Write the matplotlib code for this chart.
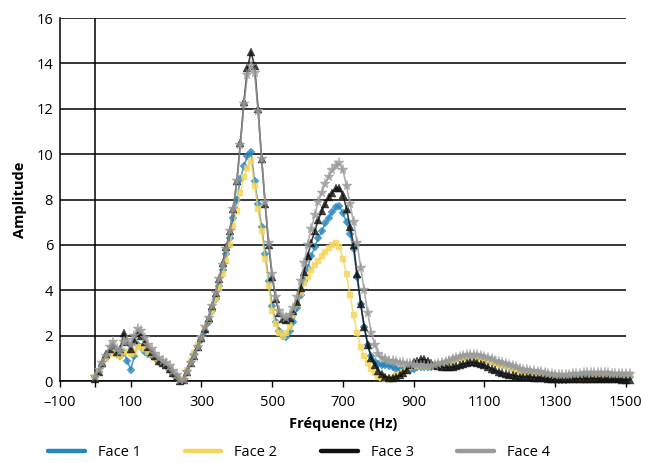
import numpy as np
import matplotlib
matplotlib.use("Agg")
import matplotlib.pyplot as plt
from matplotlib.lines import Line2D

plt.rcParams["font.family"] = ["Open Sans", "DejaVu Sans"]

# sampling grid of the measurement (Hz)
freq = np.arange(0, 1520, 10)

face1 = [
    0.2, 0.4, 0.7, 1.0, 1.3, 1.5, 1.2, 1.1, 1.3, 0.9,
    0.5, 1.1, 1.6, 1.5, 1.3, 1.2, 1.1, 1.0, 0.85, 0.75,
    0.65, 0.5, 0.3, 0.15, 0.0, 0.1, 0.45, 0.85, 1.2, 1.5,
    1.8, 2.2, 2.6, 3.1, 3.6, 4.2, 4.9, 5.6, 6.3, 7.2,
    8.0, 8.9, 9.5, 9.9, 10.1, 8.8, 7.8, 6.8, 5.6, 4.4,
    3.3, 2.6, 2.2, 2.0, 1.95, 2.2, 2.6, 3.2, 3.8, 4.4,
    5.0, 5.5, 5.9, 6.3, 6.6, 6.95, 7.2, 7.45, 7.65, 7.7,
    7.4, 7.0, 6.5, 5.8, 4.6, 3.4, 2.4, 1.6, 1.1, 0.85,
    0.75, 0.7, 0.7, 0.65, 0.6, 0.55, 0.5, 0.5, 0.5, 0.5,
    0.55, 0.6, 0.6, 0.6, 0.6, 0.6, 0.65, 0.7, 0.75, 0.8,
    0.85, 0.9, 0.95, 1.0, 1.0, 1.05, 1.05, 1.05, 1.0, 1.0,
    0.95, 0.9, 0.85, 0.8, 0.75, 0.7, 0.65, 0.6, 0.55, 0.5,
    0.45, 0.4, 0.35, 0.3, 0.25, 0.2, 0.15, 0.12, 0.1, 0.08,
    0.05, 0.05, 0.03, 0.05, 0.1, 0.15, 0.2, 0.22, 0.25, 0.25,
    0.25, 0.25, 0.25, 0.25, 0.25, 0.25, 0.22, 0.2, 0.2, 0.2,
    0.2, 0.2,
]

face2 = [
    0.2, 0.4, 0.7, 1.0, 1.2, 1.3, 1.2, 1.1, 1.3, 1.3,
    1.2, 1.3, 1.5, 1.5, 1.4, 1.3, 1.2, 1.0, 0.9, 0.8,
    0.7, 0.55, 0.35, 0.2, 0.05, 0.1, 0.5, 0.9, 1.25, 1.6,
    1.9, 2.3, 2.7, 3.1, 3.6, 4.1, 4.7, 5.3, 6.0, 6.8,
    7.5, 8.3, 9.0, 9.4, 9.7, 8.6, 7.6, 6.6, 5.4, 4.2,
    3.1, 2.5, 2.1, 2.0, 2.1, 2.4, 2.9, 3.4, 3.9, 4.3,
    4.6, 4.9, 5.1, 5.3, 5.5, 5.7, 5.85, 6.0, 6.1, 5.9,
    5.4, 4.7, 3.8, 2.9, 2.1, 1.5, 1.1, 0.8, 0.55, 0.35,
    0.2, 0.12, 0.1, 0.1, 0.15, 0.25, 0.3, 0.4, 0.5, 0.6,
    0.65, 0.65, 0.65, 0.65, 0.65, 0.65, 0.7, 0.7, 0.75, 0.8,
    0.85, 0.9, 0.95, 1.0, 1.0, 1.05, 1.05, 1.05, 1.0, 1.0,
    0.95, 0.9, 0.85, 0.8, 0.75, 0.7, 0.65, 0.6, 0.55, 0.5,
    0.45, 0.42, 0.4, 0.37, 0.35, 0.32, 0.3, 0.27, 0.25, 0.22,
    0.2, 0.18, 0.16, 0.14, 0.12, 0.1, 0.08, 0.06, 0.05, 0.05,
    0.1, 0.15, 0.2, 0.22, 0.25, 0.25, 0.25, 0.25, 0.25, 0.25,
    0.25, 0.25,
]

face3 = [
    0.1, 0.4, 0.8, 1.2, 1.4, 1.6, 1.3, 1.4, 2.1, 1.7,
    1.4, 1.8, 2.1, 2.0, 1.7, 1.5, 1.3, 1.1, 0.9, 0.8,
    0.7, 0.55, 0.35, 0.2, 0.0, 0.05, 0.4, 0.8, 1.1, 1.5,
    1.9, 2.3, 2.8, 3.3, 3.9, 4.5, 5.2, 5.9, 6.6, 7.6,
    8.8, 10.5, 12.3, 13.8, 14.5, 13.9, 12.0, 9.8, 7.8, 6.0,
    4.6, 3.6, 3.0, 2.75, 2.7, 2.8, 3.1, 3.5, 4.1, 4.8,
    5.5, 6.1, 6.6, 7.1, 7.5, 7.8, 8.1, 8.3, 8.5, 8.5,
    8.2, 7.6, 6.8, 6.0, 4.7, 3.4, 2.4, 1.6, 1.0, 0.7,
    0.45, 0.3, 0.2, 0.15, 0.15, 0.2, 0.25, 0.35, 0.5, 0.7,
    0.85, 0.9, 0.95, 0.95, 0.9, 0.8, 0.7, 0.65, 0.6, 0.6,
    0.6, 0.62, 0.65, 0.7, 0.75, 0.8, 0.82, 0.82, 0.8, 0.75,
    0.7, 0.62, 0.55, 0.48, 0.42, 0.36, 0.32, 0.28, 0.25, 0.22,
    0.2, 0.18, 0.17, 0.16, 0.15, 0.14, 0.13, 0.12, 0.11, 0.1,
    0.1, 0.1, 0.1, 0.1, 0.1, 0.1, 0.1, 0.1, 0.1, 0.1,
    0.1, 0.1, 0.1, 0.1, 0.08, 0.08, 0.08, 0.07, 0.07, 0.06,
    0.06, 0.05,
]

face4 = [
    0.2, 0.5, 0.8, 1.1, 1.5, 1.7, 1.4, 1.3, 1.7, 1.8,
    1.6, 2.0, 2.3, 2.2, 1.9, 1.6, 1.4, 1.2, 1.0, 0.9,
    0.8, 0.65, 0.45, 0.25, 0.05, 0.05, 0.4, 0.8, 1.1, 1.5,
    1.9, 2.4, 2.8, 3.3, 3.9, 4.5, 5.1, 5.8, 6.6, 7.6,
    8.8, 10.4, 12.2, 13.5, 13.9, 13.6, 11.9, 9.8, 7.9, 6.1,
    4.7, 3.7, 3.1, 2.85, 2.8, 2.9, 3.2, 3.7, 4.4, 5.2,
    6.0, 6.7, 7.3, 7.9, 8.3, 8.7, 9.0, 9.3, 9.5, 9.6,
    9.3, 8.6, 7.8, 7.0, 6.1, 5.0, 4.0, 3.0, 2.1, 1.6,
    1.2, 1.0, 0.95, 0.9, 0.9, 0.85, 0.8, 0.8, 0.75, 0.75,
    0.7, 0.7, 0.65, 0.65, 0.65, 0.65, 0.7, 0.75, 0.8, 0.85,
    0.9, 0.95, 1.0, 1.05, 1.1, 1.15, 1.15, 1.15, 1.15, 1.1,
    1.05, 1.0, 0.95, 0.9, 0.85, 0.8, 0.75, 0.7, 0.65, 0.6,
    0.55, 0.5, 0.5, 0.45, 0.45, 0.4, 0.4, 0.35, 0.3, 0.3,
    0.25, 0.25, 0.25, 0.25, 0.25, 0.3, 0.3, 0.3, 0.35, 0.35,
    0.35, 0.35, 0.35, 0.35, 0.35, 0.35, 0.3, 0.3, 0.3, 0.3,
    0.3, 0.3,
]

labels = ["Face 1", "Face 2", "Face 3", "Face 4"]
colors = ["#2787bd", "#f7d55c", "#111111", "#9a9a9a"]
markers = ["D", "s", "^", "*"]
sizes = [4.5, 4.8, 5.6, 8.0]
series = [face1, face2, face3, face4]

fig = plt.figure(figsize=(6.45, 4.63), dpi=100)
ax = fig.add_axes([0.093, 0.177, 0.8775, 0.784])

for i, values in enumerate(series):
    ax.plot(freq, values, color=colors[i], lw=1.2, marker=markers[i],
            markersize=sizes[i], markeredgewidth=0.3, alpha=0.8,
            clip_on=False, zorder=3 + i)

ax.set_xlim(-100, 1500)
ax.set_ylim(0, 16)
ax.set_xticks(np.arange(-100, 1501, 200))
ax.set_xticks([0], minor=True)
ax.set_xticklabels(["\u2013100"] + [str(v) for v in range(100, 1501, 200)])
ax.set_yticks(np.arange(0, 17, 2))
ax.axvline(0, color="black", lw=1.1, zorder=2)
ax.grid(axis="y", color="black", lw=1.1, zorder=1)
ax.set_axisbelow(True)

for side in ["top", "right"]:
    ax.spines[side].set_visible(False)
for side in ["left", "bottom"]:
    ax.spines[side].set_linewidth(1.1)

ax.tick_params(axis="x", which="both", direction="out", length=4, width=1,
               labelsize=10.5, pad=6)
ax.tick_params(axis="y", length=0, labelsize=10.5, pad=5)
ax.set_xlabel("Fréquence (Hz)", fontsize=10.5, fontweight="bold", labelpad=5)
ax.set_ylabel("Amplitude", fontsize=10.5, fontweight="bold", labelpad=7)

handles = [Line2D([0], [0], color=c, lw=3.2, solid_capstyle="round") for c in colors]
fig.legend(handles, labels, loc="center", bbox_to_anchor=(0.464, 0.023),
           ncol=4, frameon=False, fontsize=10.5, handlelength=2.5,
           handletextpad=0.9, columnspacing=3.0)

fig.savefig("out.png", dpi=100)
